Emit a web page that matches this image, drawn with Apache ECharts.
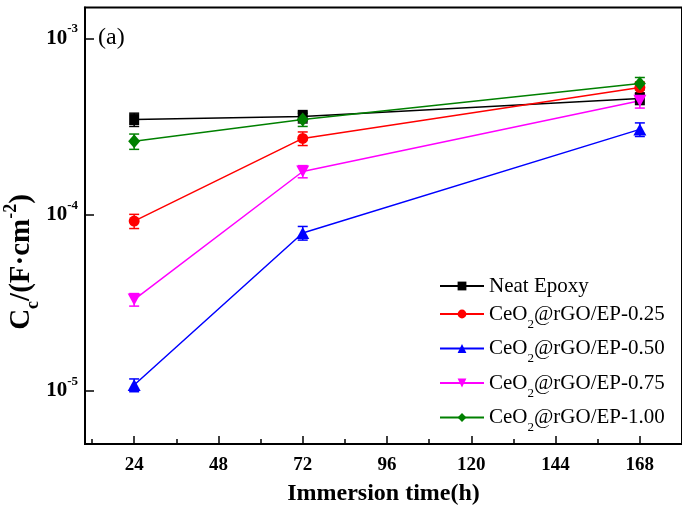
<!DOCTYPE html>
<html>
<head>
<meta charset="utf-8">
<script src="https://cdn.jsdelivr.net/npm/echarts@6/dist/echarts.min.js"></script>
<style>html,body{margin:0;padding:0;background:#fff}#c{width:682px;height:511px}</style>
</head>
<body>
<div id="c"></div>
<script>
var times = [24, 72, 168];
var seriesNames = ['Neat Epoxy', 'CeO2@rGO/EP-0.25', 'CeO2@rGO/EP-0.50', 'CeO2@rGO/EP-0.75', 'CeO2@rGO/EP-1.00'];
var neatEpoxy = [3.47e-4, 3.61e-4, 4.57e-4];
var neatEpoxyErr = [0.30e-4, 0.29e-4, 0.35e-4];
var ce025 = [9.2e-5, 2.71e-4, 5.27e-4];
var ce025Err = [0.85e-5, 0.24e-4, 0.40e-4];
var ce050 = [1.08e-5, 7.88e-5, 3.05e-4];
var ce050Err = [0.09e-5, 0.70e-5, 0.27e-4];
var ce075 = [3.30e-5, 1.76e-4, 4.43e-4];
var ce075Err = [0.27e-5, 0.14e-4, 0.40e-4];
var ce100 = [2.61e-4, 3.47e-4, 5.56e-4];
var ce100Err = [0.26e-4, 0.30e-4, 0.45e-4];
var xMajorTicks = [24, 48, 72, 96, 120, 144, 168];
var xMinorTicks = [12, 36, 60, 84, 108, 132, 156, 180];
var yTickValues = [1e-5, 1e-4, 1e-3];
var yTickExponents = ['-5', '-4', '-3'];

var FONT = "'Liberation Serif','Times New Roman',serif";
var values = [neatEpoxy, ce025, ce050, ce075, ce100];
var errs = [neatEpoxyErr, ce025Err, ce050Err, ce075Err, ce100Err];
var colors = ['#000000', '#ff0000', '#0000ff', '#ff00ff', '#008000'];
var symbols = ['rect', 'circle', 'triangle', 'triangle', 'diamond'];
var symbolSizes = [[10, 11], 11, [13, 12], [13, 12], [12, 14]];
var symbolRotates = [0, 0, 0, 180, 0];

var series = [];
for (var i = 0; i < values.length; i++) {
  series.push({
    name: seriesNames[i],
    type: 'line',
    xAxisIndex: 0,
    data: times.map(function (t, j) { return [t, values[i][j]]; }),
    symbol: symbols[i],
    symbolSize: symbolSizes[i],
    symbolRotate: symbolRotates[i],
    showSymbol: true,
    color: colors[i],
    itemStyle: { color: colors[i] },
    lineStyle: { color: colors[i], width: 1.5 },
    z: 3
  });
  (function (col) {
    series.push({
      name: 'err' + i,
      type: 'custom',
      xAxisIndex: 0,
      data: times.map(function (t, j) { return [t, values[i][j], errs[i][j]]; }),
      renderItem: function (params, api) {
        var x = api.value(0), v = api.value(1), e = api.value(2);
        var hi = api.coord([x, v + e]);
        var lo = api.coord([x, v - e]);
        var w = 5;
        var st = { stroke: col, lineWidth: 1.5 };
        return {
          type: 'group',
          children: [
            { type: 'line', shape: { x1: hi[0], y1: hi[1], x2: lo[0], y2: lo[1] }, style: st },
            { type: 'line', shape: { x1: hi[0] - w, y1: hi[1], x2: hi[0] + w, y2: hi[1] }, style: st },
            { type: 'line', shape: { x1: lo[0] - w, y1: lo[1], x2: lo[0] + w, y2: lo[1] }, style: st }
          ]
        };
      },
      z: 2
    });
  })(colors[i]);
}

var chart = echarts.init(document.getElementById('c'), null, { renderer: 'canvas' });
chart.setOption({
  animation: false,
  backgroundColor: '#ffffff',
  grid: { left: 85, top: 7.5, width: 600, height: 438.5, show: true, borderColor: '#000', borderWidth: 2, backgroundColor: 'transparent' },
  legend: {
    data: seriesNames,
    orient: 'vertical',
    left: 439,
    top: 275.5,
    padding: 0,
    itemGap: 7,
    itemWidth: 44,
    itemHeight: 11,
    textStyle: { fontFamily: FONT, fontSize: 21, color: '#000',
      rich: {
        n: { fontFamily: FONT, fontSize: 21, lineHeight: 23, color: '#000' },
        m: { fontFamily: FONT, fontSize: 21, lineHeight: 34, color: '#000' },
        s: { fontFamily: FONT, fontSize: 13, lineHeight: 13, verticalAlign: 'bottom', color: '#000' }
      }
    },
    formatter: function (name) {
      if (name.indexOf('CeO2') === 0) {
        return '{m|CeO}{s|2}{m|' + name.slice(4) + '}';
      }
      return '{n|' + name + '}';
    }
  },
  xAxis: [{
    type: 'value', min: 10, max: 180, position: 'bottom',
    axisLine: { show: true, lineStyle: { color: '#000', width: 2 } },
    axisTick: { show: true, inside: true, length: 8, customValues: xMajorTicks, lineStyle: { color: '#000', width: 1.5 } },
    axisLabel: { customValues: xMajorTicks, margin: 12, fontFamily: FONT, fontWeight: 'bold', fontSize: 19, color: '#000' },
    splitLine: { show: false },
    name: 'Immersion time(h)', nameLocation: 'middle', nameGap: 38,
    nameTextStyle: { fontFamily: FONT, fontWeight: 'bold', fontSize: 24, color: '#000' }
  }, {
    type: 'value', min: 10, max: 180, position: 'bottom',
    axisLine: { show: false },
    axisTick: { show: true, inside: true, length: 5, customValues: xMinorTicks, lineStyle: { color: '#000', width: 1.5 } },
    axisLabel: { show: false },
    splitLine: { show: false }
  }],
  yAxis: {
    type: 'log', logBase: 10, min: 5e-6, max: 1.5e-3,
    axisLine: { show: true, lineStyle: { color: '#000', width: 2 } },
    axisTick: { show: true, inside: true, length: 9, customValues: yTickValues, lineStyle: { color: '#000', width: 1.5 } },
    axisLabel: {
      customValues: yTickValues, margin: 7,
      formatter: function (v) {
        var k = Math.round(Math.log(v) / Math.LN10);
        var idx = -1;
        for (var j = 0; j < yTickValues.length; j++) {
          if (Math.round(Math.log(yTickValues[j]) / Math.LN10) === k) idx = j;
        }
        return '{b|10}{s|' + (idx >= 0 ? yTickExponents[idx] : k) + '}';
      },
      rich: {
        b: { fontFamily: FONT, fontWeight: 'bold', fontSize: 21, lineHeight: 32, color: '#000' },
        s: { fontFamily: FONT, fontWeight: 'bold', fontSize: 13, lineHeight: 13, verticalAlign: 'top', color: '#000' }
      }
    },
    splitLine: { show: false },
    minorTick: { show: false }
  },
  graphic: [
    {
      type: 'text', x: 22, y: 262, rotation: Math.PI / 2,
      style: {
        text: '{m|C}{sb|c}{m|/(F·cm}{sp|-2}{m|)}',
        align: 'center', verticalAlign: 'middle',
        fontFamily: FONT, fontWeight: 'bold', fontSize: 29, fill: '#000',
        rich: {
          m: { fontFamily: FONT, fontWeight: 'bold', fontSize: 29, lineHeight: 40, fill: '#000', color: '#000' },
          sb: { fontFamily: FONT, fontWeight: 'bold', fontSize: 18, lineHeight: 17, verticalAlign: 'bottom', fill: '#000', color: '#000' },
          sp: { fontFamily: FONT, fontWeight: 'bold', fontSize: 18, lineHeight: 17, verticalAlign: 'top', fill: '#000', color: '#000' }
        }
      }
    },
    {
      type: 'text', x: 98, y: 38,
      style: { text: '(a)', fontFamily: FONT, fontSize: 24, fill: '#000', align: 'left', verticalAlign: 'middle' }
    }
  ],
  series: series
});
</script>
</body>
</html>
